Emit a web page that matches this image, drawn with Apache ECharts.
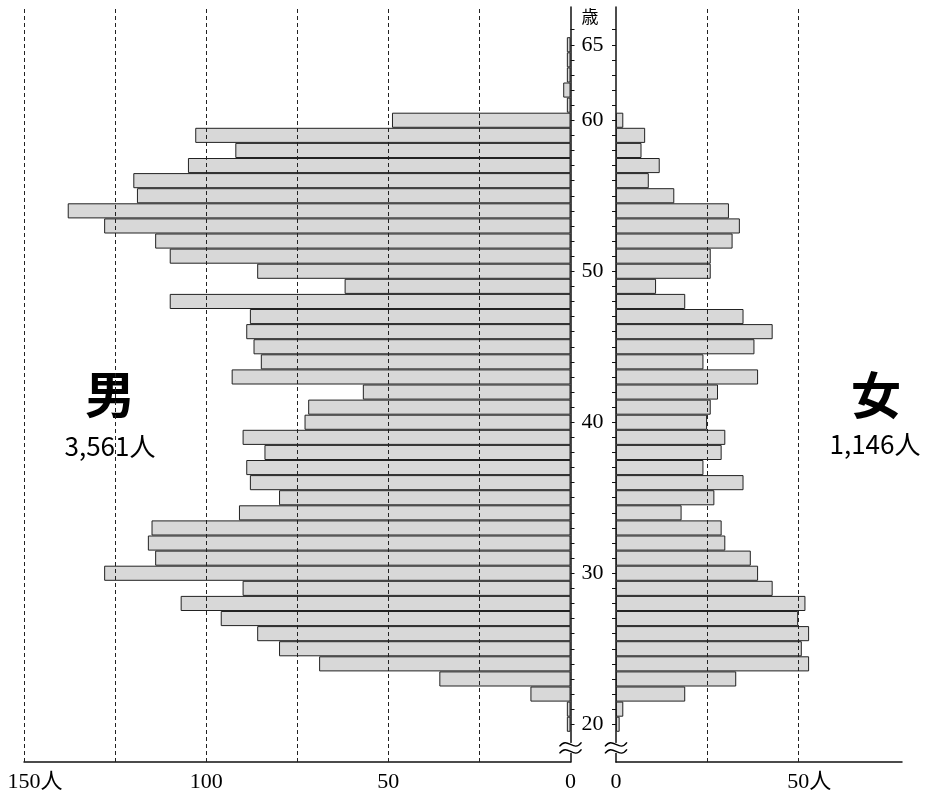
<!DOCTYPE html>
<html>
<head>
<meta charset="utf-8">
<script src="https://cdn.jsdelivr.net/npm/echarts@6/dist/echarts.min.js"></script>
<style>
html,body{margin:0;padding:0;background:#fff;}
#c{width:929px;height:794px;}
</style>
</head>
<body>
<div id="c"></div>
<script>
// Ages (category axis, bottom to top)
const ages = ['18','19','20','21','22','23','24','25','26','27','28','29','30','31','32','33','34','35','36','37','38','39','40','41','42','43','44','45','46','47','48','49','50','51','52','53','54','55','56','57','58','59','60','61','62','63','64','65','66','67'];
// Male counts by age (18..67)
const male = ['-','-',1,1,11,36,69,80,86,96,107,90,128,114,116,115,91,80,88,89,84,90,73,72,57,93,85,87,89,88,110,62,86,110,114,128,138,119,120,105,92,103,49,1,2,1,1,1,'-','-'];
// Female counts by age (18..67)
const female = ['-','-',1,2,19,33,53,51,53,50,52,43,39,37,30,29,18,27,35,24,29,30,25,26,28,39,24,38,43,35,19,11,26,26,32,34,31,16,9,12,7,8,2,'-','-','-','-','-','-','-'];
// Labelled ages
const ageLabels = ['20','30','40','50','60','65'];
const unitLabel = '歳';
// X-axis tick labels
const maleTickLabels = [0,50,100,150];
const femaleTickLabels = [0,50];
// Dashed grid lines
const maleGridValues = [25,50,75,100,125,150];
const femaleGridValues = [25,50];
const maleTotal = '3,561人';
const femaleTotal = '1,146人';

const chart = echarts.init(document.getElementById('c'), null, {renderer:'canvas'});
const serif = '"Liberation Serif","Noto Sans CJK JP",serif';
const ink = '#111';

function tickShown(idx, val){ const a = +val; return a >= 20 && a <= 66; }
function labelShown(idx, val){ return ageLabels.indexOf(val) >= 0 || val === '67'; }

const dashed = {type:[4,3], color:'#222', width:1};

const option = {
  animation:false,
  backgroundColor:'#fff',
  grid:[
    {left:24, top:7, width:546.5, height:755},
    {left:616, top:7, width:286, height:755}
  ],
  xAxis:[
    {gridIndex:0, type:'value', inverse:true, min:0, max:150, interval:25,
     axisLine:{show:true, onZero:false, lineStyle:{color:ink, width:1.5}},
     axisTick:{show:false}, splitLine:{show:false},
     axisLabel:{margin:9, color:'#000', fontFamily:serif, fontSize:22,
       formatter:function(v){ if(maleTickLabels.indexOf(v)<0) return ''; return v===150 ? '{u|'+v+'人}' : String(v); },
       rich:{u:{fontFamily:serif, fontSize:22, color:'#000', padding:[0,0,0,22]}}}
    },
    {gridIndex:1, type:'value', min:0, max:78.5, interval:25,
     axisLine:{show:true, onZero:false, lineStyle:{color:ink, width:1.5}},
     axisTick:{show:false}, splitLine:{show:false},
     axisLabel:{margin:9, color:'#000', fontFamily:serif, fontSize:22, showMaxLabel:false,
       formatter:function(v){ if(femaleTickLabels.indexOf(v)<0) return ''; return v===50 ? '{u|'+v+'人}' : String(v); },
       rich:{u:{fontFamily:serif, fontSize:22, color:'#000', padding:[0,0,0,22]}}}
    }
  ],
  yAxis:[
    {gridIndex:0, type:'category', data:ages, position:'right',
     axisLine:{show:true, onZero:false, lineStyle:{color:ink, width:1.5}},
     axisTick:{show:true, alignWithLabel:true, interval:tickShown, length:4, lineStyle:{color:ink, width:1}},
     axisLabel:{show:true, interval:labelShown, margin:11, color:'#000', fontFamily:serif, fontSize:22,
       formatter:function(v){ return v==='67' ? '{k|'+unitLabel+'}' : v; },
       rich:{k:{fontFamily:'"Noto Sans CJK JP"', fontSize:17, color:'#000', padding:[4,0,0,0]}}},
     splitLine:{show:false}
    },
    {gridIndex:1, type:'category', data:ages, position:'left',
     axisLine:{show:true, onZero:false, lineStyle:{color:ink, width:1.5}},
     axisTick:{show:true, alignWithLabel:true, interval:tickShown, length:4, lineStyle:{color:ink, width:1}},
     axisLabel:{show:false}, splitLine:{show:false}
    }
  ],
  series:[
    {name:'男', type:'bar', xAxisIndex:0, yAxisIndex:0, data:male, barCategoryGap:'0%',
     itemStyle:{color:'#d8d8d8', borderColor:'#222', borderWidth:1},
     markLine:{silent:true, symbol:['none','none'], label:{show:false}, lineStyle:dashed, z:10,
       data:maleGridValues.map(v=>({xAxis:v}))}
    },
    {name:'女', type:'bar', xAxisIndex:1, yAxisIndex:1, data:female, barCategoryGap:'0%',
     itemStyle:{color:'#d8d8d8', borderColor:'#222', borderWidth:1},
     markLine:{silent:true, symbol:['none','none'], label:{show:false}, lineStyle:dashed, z:10,
       data:femaleGridValues.map(v=>({xAxis:v}))}
    }
  ],
  graphic:[
    {type:'text', x:110, y:394, style:{text:'男', font:'bold 50px "Noto Sans CJK JP"', fill:'#000', align:'center', verticalAlign:'middle'}},
    {type:'text', x:110, y:446, style:{text:maleTotal, font:'26px "Noto Sans CJK JP"', fill:'#000', align:'center', verticalAlign:'middle'}},
    {type:'text', x:876, y:395, style:{text:'女', font:'bold 50px "Noto Sans CJK JP"', fill:'#000', align:'center', verticalAlign:'middle'}},
    {type:'text', x:875, y:444, style:{text:femaleTotal, font:'26px "Noto Sans CJK JP"', fill:'#000', align:'center', verticalAlign:'middle'}}
  ]
};
chart.setOption(option);

// axis-break marks between the 18 and 19 rows on both age axes
const pA = chart.convertToPixel({gridIndex:0}, [0, 0]);
const pB = chart.convertToPixel({gridIndex:0}, [0, 1]);
const pC = chart.convertToPixel({gridIndex:1}, [0, 0]);
const cy = (pA[1] + pB[1]) / 2 + 1;
function breakMark(cx){
  const wave = function(dy){
    return {type:'bezierCurve', shape:{x1:cx-11, y1:cy+dy+2, x2:cx+11, y2:cy+dy-2, cpx1:cx-3, cpy1:cy+dy-9, cpx2:cx+3, cpy2:cy+dy+9},
      style:{stroke:'#000', lineWidth:1.4, fill:null}, z:100};
  };
  return [
    {type:'rect', shape:{x:cx-3, y:cy-5, width:6, height:10}, style:{fill:'#fff'}, z:99},
    wave(-3.5), wave(3.5)
  ];
}
chart.setOption({graphic: option.graphic.concat(breakMark(pA[0]), breakMark(pC[0]))});
</script>
</body>
</html>
